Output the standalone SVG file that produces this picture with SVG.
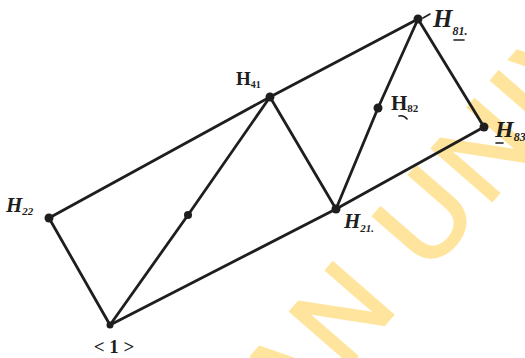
<svg xmlns="http://www.w3.org/2000/svg" width="525" height="358" viewBox="0 0 525 358">
<style>
.e{stroke:#1e1e1e;stroke-width:2.8;stroke-linecap:round;fill:none}
.n{fill:#1e1e1e}
.l{font-family:"Liberation Serif",serif;font-weight:bold;fill:#1e1e1e}
.i{font-style:italic}
.m{stroke:#1e1e1e;stroke-width:1.6;fill:none;stroke-linecap:round}
.wm{font-family:"Liberation Sans",sans-serif;font-size:115px;fill:#FFDA75;stroke:#FFDA75;stroke-width:3;opacity:0.7;letter-spacing:6px}
</style>
<rect width="525" height="358" fill="#ffffff"/>
<text class="wm" transform="translate(290,433) rotate(-49)">AN UNIV</text>
<g id="connectors">
<line class="e" x1="49" y1="218" x2="270" y2="97"/>
<line class="e" x1="270" y1="97" x2="418" y2="19"/>
<line class="e" x1="49" y1="218" x2="110" y2="325"/>
<line class="e" x1="110" y1="325" x2="336" y2="209"/>
<line class="e" x1="336" y1="209" x2="484" y2="127"/>
<line class="e" x1="110" y1="325" x2="188" y2="215"/>
<line class="e" x1="188" y1="215" x2="270" y2="97"/>
<line class="e" x1="270" y1="97" x2="336" y2="209"/>
<line class="e" x1="336" y1="209" x2="378" y2="108"/>
<line class="e" x1="378" y1="108" x2="418" y2="19"/>
<line class="e" x1="418" y1="19" x2="484" y2="127"/>
</g>
<g id="H81"><circle class="n" cx="418" cy="19" r="4.5"/><path class="m" d="M423 18 L430 14"/><text class="l i" x="433" y="27" font-size="25">H<tspan font-size="12" dy="8">81.</tspan></text><path class="m" d="M454 40 L464 40"/></g>
<g id="H41"><circle class="n" cx="270" cy="97" r="4.5"/><text class="l" x="236" y="85" font-size="19">H<tspan font-size="10" dy="3">41</tspan></text></g>
<g id="H82"><circle class="n" cx="378" cy="108" r="4.5"/><text class="l" x="391" y="110" font-size="21">H<tspan font-size="11" dy="2">82</tspan></text><path class="m" d="M399 116 Q404 115 407 119"/></g>
<g id="H83"><circle class="n" cx="484" cy="127" r="4.5"/><text class="l i" x="495" y="137" font-size="24">H<tspan font-size="12" dy="4">83</tspan></text><path class="m" d="M496 143 L503 143"/></g>
<g id="H22"><circle class="n" cx="49" cy="218" r="4.5"/><text class="l i" x="6" y="212" font-size="21">H<tspan font-size="11" dy="3">22</tspan></text></g>
<g id="H21"><circle class="n" cx="336" cy="209" r="4.5"/><text class="l i" x="344" y="228" font-size="21">H<tspan font-size="11" dy="4">21.</tspan></text></g>
<g id="mid"><circle class="n" cx="188" cy="215" r="4"/></g>
<g id="n1"><circle class="n" cx="110" cy="325" r="3.5"/><text class="l" x="114" y="353" font-size="19" text-anchor="middle">&lt; 1 &gt;</text></g>
</svg>
